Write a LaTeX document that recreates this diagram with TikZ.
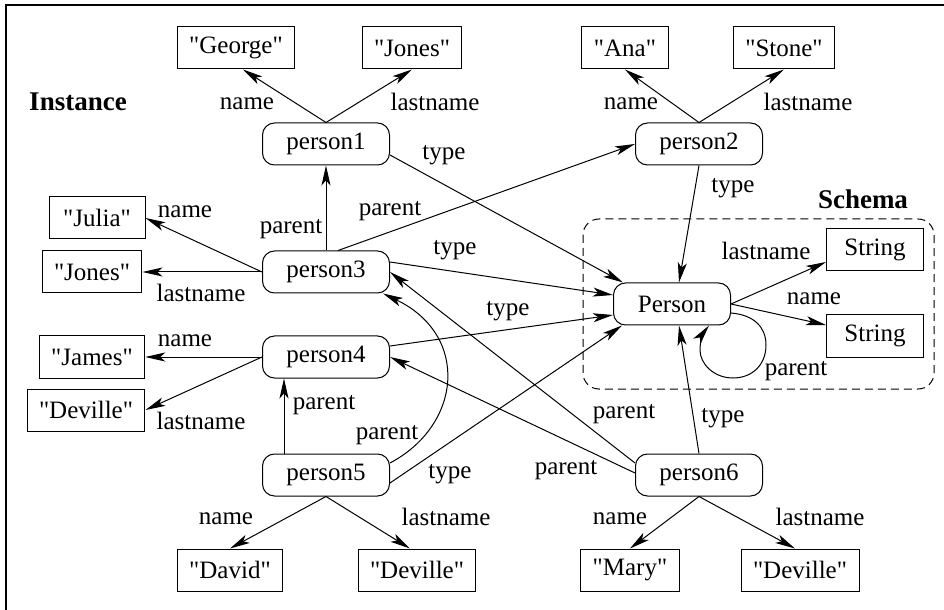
\documentclass[tikz,border=0pt]{standalone}
\usepackage{fontspec}
\setmainfont{Liberation Serif}[Ligatures=TeXOff]
\usetikzlibrary{arrows.meta}
\tikzset{
  obj/.style={draw, rounded corners=6pt, minimum width=63.5pt, minimum height=21pt,
              inner sep=0pt, font=\fontsize{12.5}{15}\selectfont},
  lit/.style={draw, minimum height=21pt, inner xsep=6pt, inner ysep=0pt,
              font=\fontsize{12.5}{15}\selectfont},
  lbl/.style={inner sep=0pt, font=\fontsize{12.5}{15}\selectfont},
  head/.style={inner sep=0pt, font=\fontsize{13.5}{16}\selectfont\bfseries},
  rel/.style={-{Stealth[length=10pt, width=4.5pt, inset=2.5pt]}, line width=0.5pt},
}
\begin{document}
\begin{tikzpicture}[x=0.5pt, y=-0.5pt, line width=0.5pt]
  \useasboundingbox (0,0) rectangle (944,610);
  \draw[line width=0.8pt] (6,610) -- (6,5) -- (944,5);

  % schema frame
  \draw[dash pattern=on 4pt off 2.5pt, rounded corners=8pt] (583,219) rectangle (934,389);
  \node[head] (instance) at (78,102) {Instance};
  \node[head] (schema) at (863,199) {Schema};

  % instance objects
  \node[obj] (person1) at (326,144) {person1};
  \node[obj] (person2) at (699,144) {person2};
  \node[obj] (person3) at (326,272) {person3};
  \node[obj] (person4) at (326,357) {person4};
  \node[obj] (person5) at (326,475) {person5};
  \node[obj] (person6) at (699,475) {person6};
  \node[obj, minimum width=58.5pt] (Person) at (672,304) {Person};

  % literal values
  \node[lit] (george) at (236,48) {"George"};
  \node[lit] (jones1) at (412,48) {"Jones"};
  \node[lit] (ana) at (625,48) {"Ana"};
  \node[lit] (stone) at (784,48) {"Stone"};
  \node[lit, minimum width=48pt] (julia) at (97,218) {"Julia"};
  \node[lit] (jones3) at (92,272) {"Jones"};
  \node[lit] (james) at (92,357) {"James"};
  \node[lit] (deville4) at (86,410) {"Deville"};
  \node[lit] (david) at (230,570) {"David"};
  \node[lit] (deville5) at (417,570) {"Deville"};
  \node[lit] (mary) at (630,570) {"Mary"};
  \node[lit] (deville6) at (800,570) {"Deville"};
  \node[lit, minimum width=48.5pt, align=right, inner xsep=5pt] (strA) at (875,250) {\hfill String};
  \node[lit, minimum width=48.5pt, align=right, inner xsep=5pt] (strB) at (875,336) {\hfill String};

  % name / lastname
  \draw[rel] (person1.north) -- ([xshift=3.5pt]george.south);
  \draw[rel] (person1.north) -- (jones1.south);
  \draw[rel] (person2.north) -- (ana.south);
  \draw[rel] (person2.north) -- (stone.south);
  \draw[rel] (person3.west) -- (julia.east);
  \draw[rel] (person3.west) -- (jones3.east);
  \draw[rel] (person4.west) -- (james.east);
  \draw[rel] (person4.west) -- (deville4.east);
  \draw[rel] (person5.south) -- (david.north);
  \draw[rel] (person5.south) -- ([xshift=-3.5pt]deville5.north);
  \draw[rel] (person6.south) -- (mary.north);
  \draw[rel] (person6.south) -- ([xshift=-2.5pt]deville6.north);
  \draw[rel] (Person.east) -- ([yshift=-6pt]strA.west);
  \draw[rel] (Person.east) -- ([yshift=5.5pt]strB.west);

  % type
  \draw[rel] ([yshift=-5.5pt]person1.east) -- ([xshift=5pt]Person.north west);
  \draw[rel] (person2.south) -- ([xshift=3.5pt]Person.north);
  \draw[rel] ([yshift=5pt]person3.east) -- ([yshift=4.5pt]Person.west);
  \draw[rel] ([yshift=5.5pt]person4.east) -- ([yshift=-5.5pt]Person.west);
  \draw[rel] ([yshift=-4pt]person5.east) -- ([xshift=4.5pt]Person.south west);
  \draw[rel] (person6.north) -- ([xshift=3.5pt]Person.south);

  % parent
  \draw[rel] (person3.north) -- (person1.south);
  \draw[rel] ([xshift=6pt]person3.north) -- (person2.west);
  \draw[rel] ([xshift=-21pt]person5.north) -- ([xshift=-21pt]person4.south);
  \draw[rel] ([yshift=6pt]person5.east) .. controls (462,425) and (470,335) .. ([xshift=-3.5pt]person3.south east);
  \draw[rel] ([yshift=6pt]person6.west) -- (person3.east);
  \draw[rel] ([yshift=1pt]person6.west) -- (person4.east);
  \draw[rel] ([yshift=-4.5pt]Person.east) .. controls (755,315) and (766,328) .. (766,345)
    .. controls (766,365) and (752,378) .. (733,378)
    .. controls (714,378) and (700,364) .. (700,350)
    .. controls (700,340) and (704,332) .. ([xshift=18.5pt]Person.south);

  % edge labels
  \node[lbl] (l1) at (247,104) {name};
  \node[lbl] (l2) at (435,102) {lastname};
  \node[lbl] (l3) at (631,104) {name};
  \node[lbl] (l4) at (808,102) {lastname};
  \node[lbl] (l5) at (444,155) {type};
  \node[lbl] (l6) at (733,188) {type};
  \node[lbl] (l7) at (291,229) {parent};
  \node[lbl] (l8) at (390,211) {parent};
  \node[lbl] (l9) at (185,212) {name};
  \node[lbl] (l10) at (201,293) {lastname};
  \node[lbl] (l11) at (455,250) {type};
  \node[lbl] (l12) at (766,251) {lastname};
  \node[lbl] (l13) at (814,299) {name};
  \node[lbl] (l14) at (508,311) {type};
  \node[lbl] (l15) at (185,341) {name};
  \node[lbl] (l16) at (201,421) {lastname};
  \node[lbl] (l17) at (324,405) {parent};
  \node[lbl] (l18) at (387,435) {parent};
  \node[lbl] (l19) at (450,474) {type};
  \node[lbl] (l20) at (796,371) {parent};
  \node[lbl] (l21) at (624,414) {parent};
  \node[lbl] (l22) at (723,418) {type};
  \node[lbl] (l23) at (566,470) {parent};
  \node[lbl] (l24) at (226,519) {name};
  \node[lbl] (l25) at (446,517) {lastname};
  \node[lbl] (l26) at (620,519) {name};
  \node[lbl] (l27) at (820,517) {lastname};
\end{tikzpicture}
\end{document}
